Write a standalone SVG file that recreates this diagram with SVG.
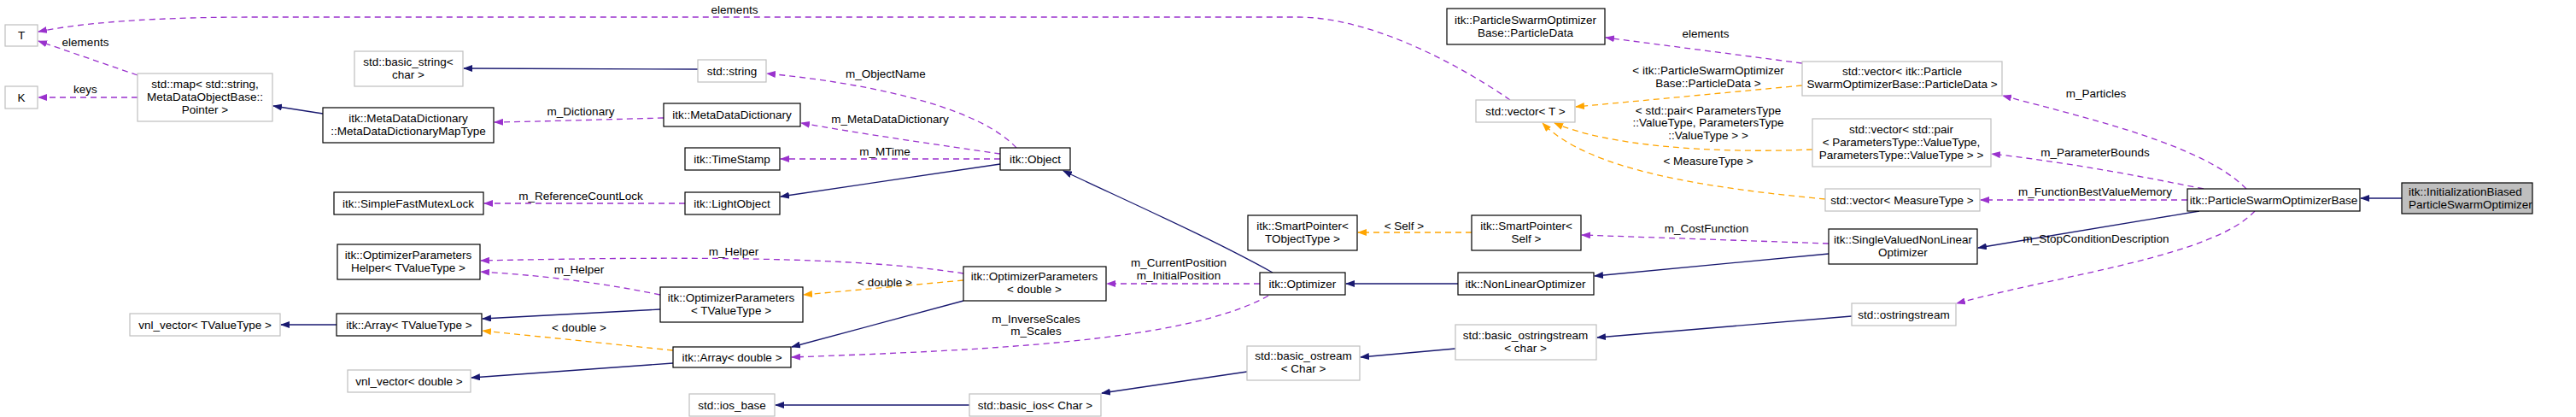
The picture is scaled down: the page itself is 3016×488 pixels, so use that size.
<svg xmlns="http://www.w3.org/2000/svg" width="3016" height="488" viewBox="0 0 3016 488">
<style>
text{font-family:"Liberation Sans",Arial,sans-serif;font-size:13.5px;fill:#000;text-anchor:middle}
.n rect{fill:#fff;stroke:#000;stroke-width:1.2}
.u rect{fill:#fff;stroke:#bfbfbf;stroke-width:1.2}
.s{fill:none;stroke:#191970;stroke-width:1.3;marker-end:url(#an)}
.p{fill:none;stroke:#9a32cd;stroke-width:1.3;stroke-dasharray:7,5;marker-end:url(#ap)}
.o{fill:none;stroke:#ffa500;stroke-width:1.3;stroke-dasharray:7,5;marker-end:url(#ao)}
</style>
<defs>
<marker id="an" markerWidth="11" markerHeight="8" refX="10" refY="4" orient="auto" markerUnits="userSpaceOnUse"><path d="M0,0 L11,4 L0,8z" fill="#191970"/></marker>
<marker id="ap" markerWidth="11" markerHeight="8" refX="10" refY="4" orient="auto" markerUnits="userSpaceOnUse"><path d="M0,0 L11,4 L0,8z" fill="#9a32cd"/></marker>
<marker id="ao" markerWidth="11" markerHeight="8" refX="10" refY="4" orient="auto" markerUnits="userSpaceOnUse"><path d="M0,0 L11,4 L0,8z" fill="#ffa500"/></marker>
</defs>
<g id="connectors">
<path class="s" d="M2812,232 L2764,232"/>
<path class="s" d="M2575,247 L2316,290"/>
<path class="p" d="M2630,221 C2580,170 2450,140 2345,112"/>
<path class="p" d="M2580,221 C2500,205 2420,190 2332,180"/>
<path class="p" d="M2561,234 L2319,234"/>
<path class="p" d="M2640,247 C2590,300 2420,320 2291,355"/>
<path class="s" d="M2141,297 L1867,323"/>
<path class="p" d="M2141,285 L1852,275"/>
<path class="o" d="M1723,272 L1590,272"/>
<path class="s" d="M1707,332 L1576,332"/>
<path class="s" d="M1490,319 C1420,280 1330,240 1245,200"/>
<path class="p" d="M1475,332 L1296,332"/>
<path class="p" d="M1485,346 C1390,400 1150,410 927,418"/>
<path class="p" d="M1190,173 C1150,130 1040,100 898,86"/>
<path class="p" d="M1171,180 C1100,170 1000,155 938,144"/>
<path class="p" d="M1171,186 L914,186"/>
<path class="s" d="M1171,192 L914,230"/>
<path class="p" d="M802,238 L567,238"/>
<path class="p" d="M777,138 C700,140 640,142 579,143"/>
<path class="s" d="M378,133 L320,124"/>
<path class="p" d="M161,88 L45,48"/>
<path class="p" d="M161,114 L45,114"/>
<path class="s" d="M817,81 L543,80"/>
<path class="p" d="M1768,117 C1700,70 1600,20 1520,20 L300,20 C150,20 80,30 45,37"/>
<path class="p" d="M2110,74 L1880,44"/>
<path class="o" d="M2110,100 L1845,125"/>
<path class="o" d="M2122,175 C2000,180 1880,170 1820,144"/>
<path class="o" d="M2137,233 C2000,220 1860,200 1806,144"/>
<path class="o" d="M1128,328 L941,345"/>
<path class="p" d="M1128,320 C1000,300 800,300 563,305"/>
<path class="p" d="M773,345 C700,330 630,322 563,318"/>
<path class="s" d="M1128,352 L927,406"/>
<path class="s" d="M773,362 L565,373"/>
<path class="o" d="M788,410 L565,387"/>
<path class="s" d="M788,425 L552,442"/>
<path class="s" d="M394,380 L329,380"/>
<path class="s" d="M1704,408 L1593,418"/>
<path class="s" d="M2168,370 L1870,395"/>
<path class="s" d="M1460,435 L1290,460"/>
<path class="s" d="M1135,474 L908,474"/>
</g>
<g id="labels">
<text x="100" y="54">elements</text>
<text x="100" y="109">keys</text>
<text x="860" y="16">elements</text>
<text x="1037" y="91">m_ObjectName</text>
<text x="1042" y="144">m_MetaDataDictionary</text>
<text x="1036" y="182">m_MTime</text>
<text x="680" y="234">m_ReferenceCountLock</text>
<text x="680" y="135">m_Dictionary</text>
<text x="678" y="320">m_Helper</text>
<text x="678" y="388">&lt; double &gt;</text>
<text x="859" y="299">m_Helper</text>
<text x="1036" y="335">&lt; double &gt;</text>
<text x="1380" y="312">m_CurrentPosition</text>
<text x="1380" y="327">m_InitialPosition</text>
<text x="1213" y="378">m_InverseScales</text>
<text x="1213" y="392">m_Scales</text>
<text x="1997" y="44">elements</text>
<text x="2000" y="87">&lt; itk::ParticleSwarmOptimizer</text>
<text x="2000" y="102">Base::ParticleData &gt;</text>
<text x="2000" y="134">&lt; std::pair&lt; ParametersType</text>
<text x="2000" y="148">::ValueType, ParametersType</text>
<text x="2000" y="163">::ValueType &gt; &gt;</text>
<text x="2000" y="193">&lt; MeasureType &gt;</text>
<text x="1644" y="269">&lt; Self &gt;</text>
<text x="1998" y="272">m_CostFunction</text>
<text x="2454" y="114">m_Particles</text>
<text x="2453" y="183">m_ParameterBounds</text>
<text x="2453" y="229">m_FunctionBestValueMemory</text>
<text x="2454" y="284">m_StopConditionDescription</text>
</g>
<g id="T" class="u"><rect x="6" y="29" width="38" height="25"/><text x="25" y="46">T</text></g>
<g id="K" class="u"><rect x="6" y="101" width="38" height="26"/><text x="25" y="119">K</text></g>
<g id="stdmap" class="u"><rect x="161" y="86" width="158" height="56"/><text x="240" y="103">std::map&lt; std::string,</text><text x="240" y="118">MetaDataObjectBase::</text><text x="240" y="133">Pointer &gt;</text></g>
<g id="basic_string" class="u"><rect x="415" y="60" width="127" height="41"/><text x="478" y="77">std::basic_string&lt;</text><text x="478" y="92">char &gt;</text></g>
<g id="MapType" class="n"><rect x="378" y="126" width="200" height="41"/><text x="478" y="143">itk::MetaDataDictionary</text><text x="478" y="158">::MetaDataDictionaryMapType</text></g>
<g id="Mutex" class="n"><rect x="391" y="225" width="175" height="26"/><text x="478" y="243">itk::SimpleFastMutexLock</text></g>
<g id="OPHelper" class="n"><rect x="395" y="286" width="167" height="41"/><text x="478" y="303">itk::OptimizerParameters</text><text x="478" y="318">Helper&lt; TValueType &gt;</text></g>
<g id="ArrayT" class="n"><rect x="394" y="367" width="170" height="26"/><text x="479" y="385">itk::Array&lt; TValueType &gt;</text></g>
<g id="vnlT" class="u"><rect x="152" y="367" width="176" height="26"/><text x="240" y="385">vnl_vector&lt; TValueType &gt;</text></g>
<g id="vnlD" class="u"><rect x="407" y="433" width="144" height="26"/><text x="479" y="451">vnl_vector&lt; double &gt;</text></g>
<g id="stdstring" class="u"><rect x="817" y="70" width="80" height="26"/><text x="857" y="88">std::string</text></g>
<g id="MDD" class="n"><rect x="777" y="121" width="160" height="27"/><text x="857" y="139">itk::MetaDataDictionary</text></g>
<g id="TimeStamp" class="n"><rect x="802" y="173" width="111" height="26"/><text x="857" y="191">itk::TimeStamp</text></g>
<g id="LightObject" class="n"><rect x="802" y="225" width="111" height="26"/><text x="857" y="243">itk::LightObject</text></g>
<g id="Object" class="n"><rect x="1171" y="173" width="82" height="26"/><text x="1212" y="191">itk::Object</text></g>
<g id="OPD" class="n"><rect x="1128" y="312" width="167" height="40"/><text x="1211" y="328">itk::OptimizerParameters</text><text x="1211" y="343">&lt; double &gt;</text></g>
<g id="OPT" class="n"><rect x="773" y="336" width="167" height="41"/><text x="856" y="353">itk::OptimizerParameters</text><text x="856" y="368">&lt; TValueType &gt;</text></g>
<g id="ArrayD" class="n"><rect x="788" y="406" width="138" height="24"/><text x="857" y="423">itk::Array&lt; double &gt;</text></g>
<g id="ios_base" class="u"><rect x="807" y="461" width="100" height="26"/><text x="857" y="479">std::ios_base</text></g>
<g id="basic_ios" class="u"><rect x="1135" y="461" width="154" height="26"/><text x="1212" y="479">std::basic_ios&lt; Char &gt;</text></g>
<g id="Optimizer" class="n"><rect x="1475" y="319" width="100" height="26"/><text x="1525" y="337">itk::Optimizer</text></g>
<g id="SPT" class="n"><rect x="1461" y="252" width="128" height="41"/><text x="1525" y="269">itk::SmartPointer&lt;</text><text x="1525" y="284">TObjectType &gt;</text></g>
<g id="basic_ostream" class="u"><rect x="1460" y="405" width="132" height="40"/><text x="1526" y="421">std::basic_ostream</text><text x="1526" y="436">&lt; Char &gt;</text></g>
<g id="ParticleData" class="n"><rect x="1694" y="10" width="185" height="42"/><text x="1786" y="28">itk::ParticleSwarmOptimizer</text><text x="1786" y="43">Base::ParticleData</text></g>
<g id="vectorT" class="u"><rect x="1728" y="117" width="116" height="26"/><text x="1786" y="135">std::vector&lt; T &gt;</text></g>
<g id="SPS" class="n"><rect x="1723" y="252" width="128" height="41"/><text x="1787" y="269">itk::SmartPointer&lt;</text><text x="1787" y="284">Self &gt;</text></g>
<g id="NLO" class="n"><rect x="1707" y="319" width="159" height="26"/><text x="1786" y="337">itk::NonLinearOptimizer</text></g>
<g id="basic_ostringstream" class="u"><rect x="1704" y="380" width="165" height="41"/><text x="1786" y="397">std::basic_ostringstream</text><text x="1786" y="412">&lt; char &gt;</text></g>
<g id="vectorPD" class="u"><rect x="2110" y="72" width="234" height="40"/><text x="2227" y="88">std::vector&lt; itk::Particle</text><text x="2227" y="103">SwarmOptimizerBase::ParticleData &gt;</text></g>
<g id="vectorPair" class="u"><rect x="2122" y="139" width="209" height="56"/><text x="2226" y="156">std::vector&lt; std::pair</text><text x="2226" y="171">&lt; ParametersType::ValueType,</text><text x="2226" y="186">ParametersType::ValueType &gt; &gt;</text></g>
<g id="vectorMeasure" class="u"><rect x="2137" y="221" width="181" height="26"/><text x="2227" y="239">std::vector&lt; MeasureType &gt;</text></g>
<g id="SVNLO" class="n"><rect x="2141" y="268" width="174" height="41"/><text x="2228" y="285">itk::SingleValuedNonLinear</text><text x="2228" y="300">Optimizer</text></g>
<g id="ostringstream" class="u"><rect x="2168" y="355" width="122" height="26"/><text x="2229" y="373">std::ostringstream</text></g>
<g id="PSOBase" class="n"><rect x="2561" y="221" width="202" height="26"/><text x="2662" y="239">itk::ParticleSwarmOptimizerBase</text></g>
<g id="InitBiased" class="n"><rect x="2812" y="214" width="153" height="36" style="fill:#bfbfbf"/><text x="2820" y="229" style="text-anchor:start">itk::InitializationBiased</text><text x="2820" y="244" style="text-anchor:start">ParticleSwarmOptimizer</text></g>
</svg>
